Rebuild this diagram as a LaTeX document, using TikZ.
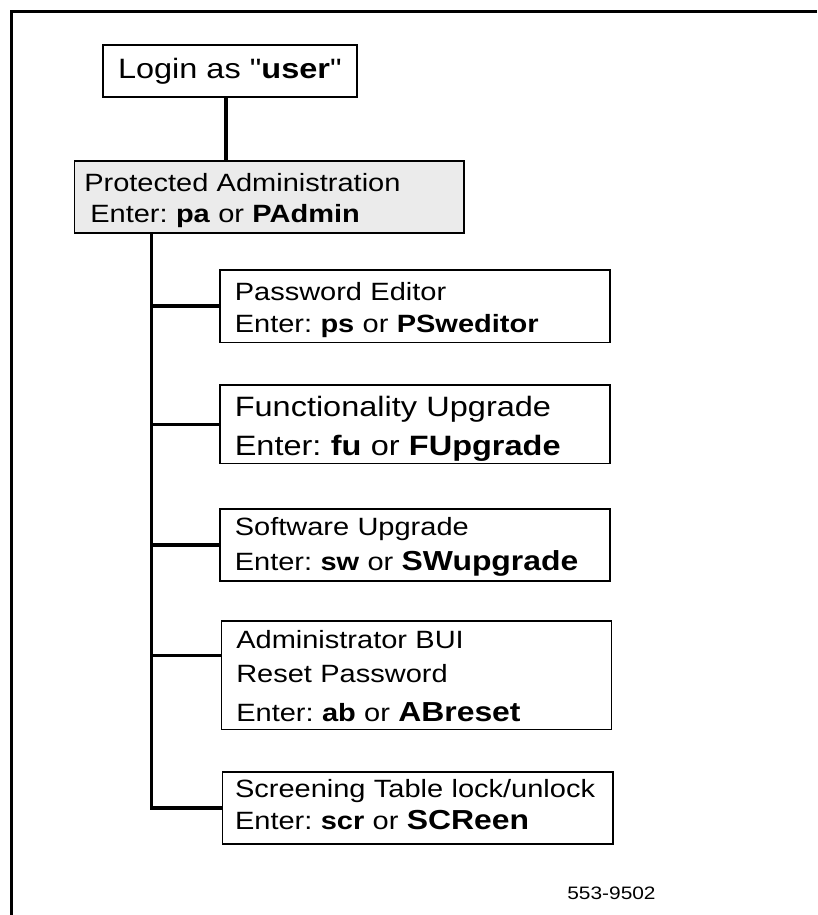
\documentclass[tikz,border=0pt]{standalone}
\usepackage{fontspec}
\setmainfont{Liberation Sans}[FakeStretch=1.16, Ligatures=TeXOff]
\usetikzlibrary{calc}
\newcommand{\bigkey}[1]{{\fontsize{27.5}{27.5}\selectfont\bfseries #1}} % 大きいコマンド名
\frenchspacing

\begin{document}
\begin{tikzpicture}[x=1pt, y=-1pt, % 1px = 1pt、下向き
  plain/.style={draw, line width=1.6pt, anchor=north west, inner ysep=0pt},
  box/.style={plain, align=left, inner xsep=15pt, minimum width=390pt, text width=360pt},
  lines/.style 2 args={execute at begin node={\rule{0pt}{#1}}, execute at end node={\rule[-#2]{0pt}{#2}}}, % 1行目の高さ、最終行の深さ
  link/.style={line width=3.6pt}]
  \useasboundingbox (0,0) rectangle (817,915);
  \draw[line width=3pt] (817,11.7) -- (11.5,11.7) -- (11.5,915); % 枠

  \node[plain, minimum width=254pt, minimum height=52pt, font=\fontsize{28}{28}\selectfont] (login) at (102,44) {Login as "\textbf{user}"};
  \node[box, fill=black!8, inner xsep=10pt, minimum width=389.5pt, text width=369.5pt, minimum height=72pt, lines={31pt}{10.3pt}, font=\fontsize{25}{30.7}\selectfont] (pa) at (73.5,160) {Protected Administration\\\hspace*{6pt}Enter: \textbf{pa} or \textbf{PAdmin}};

  \node[box, minimum height=72.5pt, lines={31pt}{9.8pt}, font=\fontsize{25}{31.7}\selectfont] (pe) at (219,269) {Password Editor\\Enter: \textbf{ps} or \textbf{PSweditor}};
  \node[box, minimum height=78.5pt, lines={31.7pt}{7.8pt}, font=\fontsize{28}{39}\selectfont] (fu) at (219,384.3) {Functionality Upgrade\\Enter: \textbf{fu} or \textbf{FUpgrade}};
  \node[box, minimum height=71.7pt, lines={26.7pt}{10.7pt}, font=\fontsize{25}{34.3}\selectfont] (sw) at (219,508.3) {Software Upgrade\\Enter: \textbf{sw} or \bigkey{SWupgrade}};
  \node[box, minimum height=108.7pt, lines={27.7pt}{8pt}, font=\fontsize{25}{34}\selectfont] (ab) at (220.5,620) {Administrator BUI\\Reset Password\\[5pt]Enter: \textbf{ab} or \bigkey{ABreset}};
  \node[box, inner xsep=12.75pt, minimum width=390.5pt, text width=365pt, minimum height=72pt, lines={25.7pt}{14.7pt}, font=\fontsize{25}{31.6}\selectfont] (sc) at (221.5,771) {Screening Table lock/unlock\\Enter: \textbf{scr} or \bigkey{SCReen}};

  \node[font=\fontsize{18}{18}\selectfont] (fig) at (611.5,893) {553-9502}; % 図番号

  \draw[link] ($(login.south)+(-4,0)$) -- ($(login.south |- pa.north)+(-4,0)$); % user -> PAdmin
  \coordinate (trunk) at ($(pa.south west)+(78,0)$); % 幹
  \coordinate (abin) at ($(ab.north west)!0.32!(ab.south west)$);
  \draw[link] (trunk) |- (sc.west);
  \draw[link] (trunk |- pe.west) -- (pe.west);
  \draw[link] (trunk |- fu.west) -- (fu.west);
  \draw[link] (trunk |- sw.west) -- (sw.west);
  \draw[link] (trunk |- abin) -- (abin);

\end{tikzpicture}
\end{document}
